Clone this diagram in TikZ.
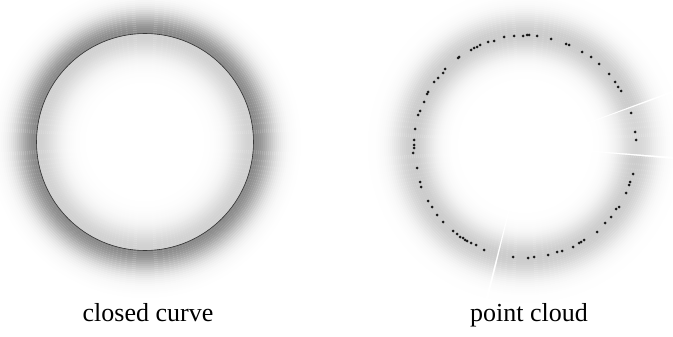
\documentclass[tikz,border=0pt]{standalone}
\usepackage{fontspec}
\setmainfont{Liberation Serif}
\usepackage{tikz}
\usetikzlibrary{positioning}
\definecolor{curveline}{RGB}{55,55,55}
\definecolor{dotcolor}{RGB}{25,25,25}
\tikzstyle{caption} = [font=\fontsize{26}{30}\selectfont, anchor=base, inner sep=0pt]
\tikzstyle{ring} = [line width=2.2pt]
\tikzstyle{dot} = [fill=dotcolor]

\begin{document}
\begin{tikzpicture}[x=1pt, y=-1pt]
    \useasboundingbox (0,0) rectangle (673,337);

    % Centres
    \coordinate (curvecenter) at (145,142);
    \coordinate (cloudcenter) at (525,146);

    % Shadow outside the closed curve
    \foreach \r in {109,111,...,155} {
        \pgfmathsetmacro{\g}{46*exp(-((\r-108)/21)^2)}
        \draw[ring, black!\g] (curvecenter) circle (\r);
    }

    % Light shading inside
    \foreach \r in {55,57,...,107} {
        \pgfmathsetmacro{\g}{18*exp(-((108-\r)/22)^2)}
        \draw[ring, black!\g] (curvecenter) circle (\r);
    }

    % Closed curve
    \draw[curveline, line width=0.6pt] (curvecenter) circle (108.5);

    % Band round the point cloud, in three pieces
    \foreach \r in {68,70,...,158} {
        \pgfmathsetmacro{\g}{20*exp(-((\r-112)/20)^2)}
        \pgfmathsetmacro{\h}{0.8*\g}
        \draw[ring, black!\g] (cloudcenter) ++(5:\r) arc (5:103.6:\r);
        \draw[ring, black!\g] (cloudcenter) ++(104.4:\r) arc (104.4:339.5:\r);
        \draw[ring, black!\h] (cloudcenter) ++(-19.8:\r) arc (-19.8:4.2:\r);
    }

    % Points
    \foreach \p in {(514,36),(523,36),(527,35),(529,35),(537,36),(551,39),
        (566,44),(569,45),(582,52),(591,57),(599,64),(609,74),(615,82),
        (618,87),(621,91),(631,113),(635,132),(636,140),(633,174),(630,182),
        (629,185),(626,193),(619,207),(616,209),(611,217),(605,223),(597,232),
        (584,240),(581,242),(579,243),(573,247),(562,251),(557,252),(548,255),
        (534,257),(528,258),(513,257),(484,250),(476,245),(471,243),(467,241),
        (465,240),(463,238),(460,237),(457,234),(453,231),(443,222),(437,215),
        (432,207),(428,201),(421,187),(420,182),(417,168),(413,153),(414,148),
        (414,145),(414,140),(415,129),(418,115),(420,111),(424,102),(427,94),
        (428,92),(434,82),(438,78),(443,73),(445,69),(458,58),(459,57),
        (471,50),(474,48),(477,47),(480,45),(488,42),(494,41),(504,37)}
        \fill[dot] \p circle (1.5);

    % Labels
    \node[caption] (curvelabel) at (148,321) {closed curve};
    \node[caption] (cloudlabel) at (529,321) {point cloud};
\end{tikzpicture}
\end{document}
